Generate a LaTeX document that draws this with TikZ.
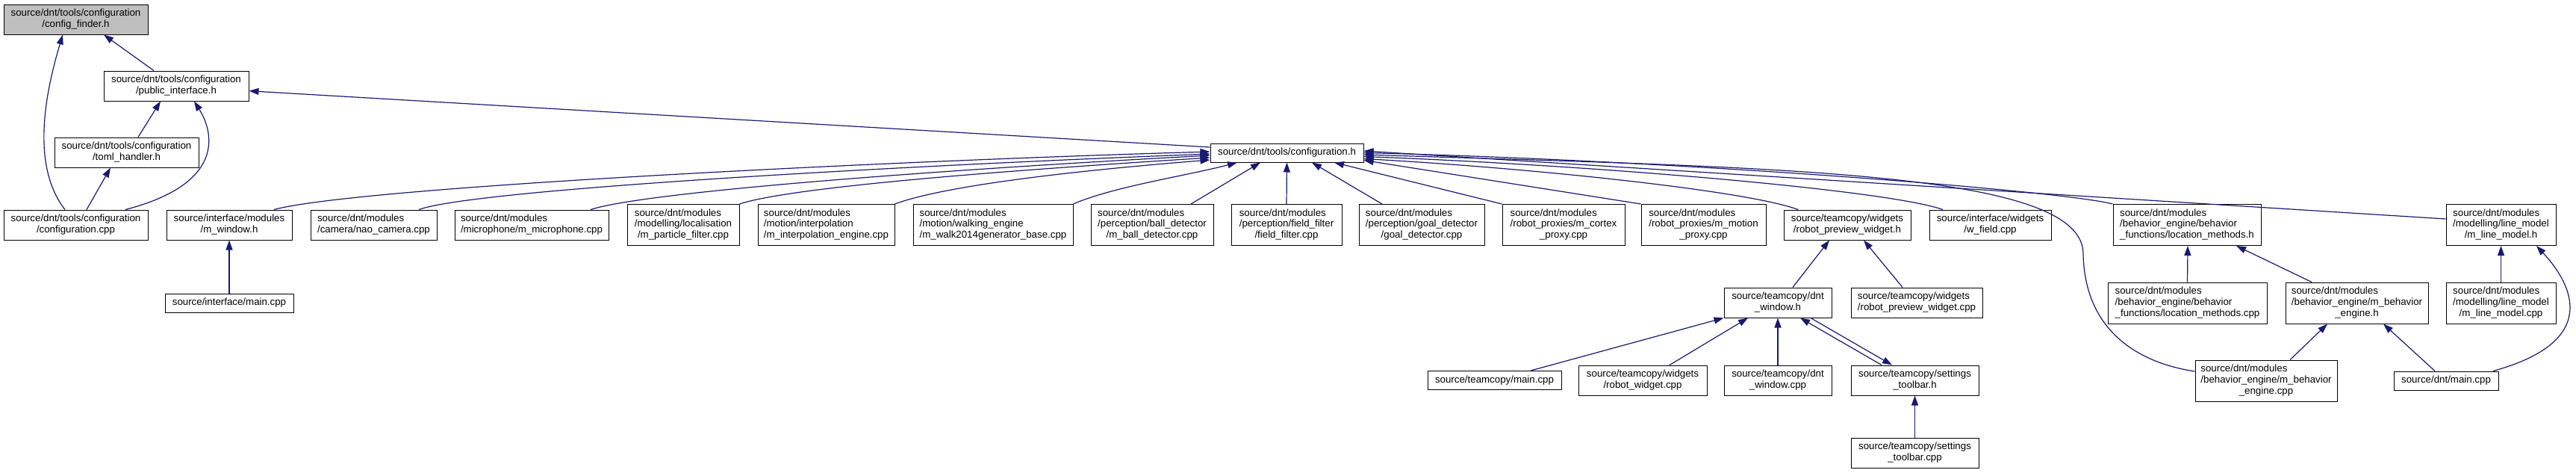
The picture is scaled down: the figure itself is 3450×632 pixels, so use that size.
\documentclass[tikz,border=0pt]{standalone}
\usepackage{fontspec}
\setmainfont{Liberation Sans}
\usetikzlibrary{arrows.meta}
\definecolor{edg}{RGB}{25,25,112}
\definecolor{rootfill}{RGB}{191,191,191}
% all lines but the last left aligned, last one centred
\newcommand{\flines}[2]{\begin{tabular}{@{}l@{}}#1\\\multicolumn{1}{@{}c@{}}{#2}\end{tabular}}
\tikzset{
  >={Triangle[length=13pt,width=9pt]},
  inc/.style={draw=black,line width=1pt,fill=white,inner sep=0pt,
    font=\fontsize{13.3}{14.7}\selectfont},
  incroot/.style={inc,fill=rootfill},
  h1/.style={minimum height=25pt},
  h2/.style={minimum height=40pt},
  h3/.style={minimum height=55pt},
  dep/.style={<-,draw=edg,line width=1.2pt},
}

\begin{document}
\begin{tikzpicture}[x=1pt,y=1pt]
  \useasboundingbox (0,0) rectangle (3450,-632);

  % top of the graph
  \node[incroot,h2,minimum width=193pt] (cfgfinder) at (101.5,-26) {\flines{source/dnt/tools/configuration}{/config\_finder.h}};
  \node[inc,h2,minimum width=194pt] (pubif) at (236,-115) {\flines{source/dnt/tools/configuration}{/public\_interface.h}};
  \node[inc,h2,minimum width=193pt] (toml) at (169.5,-204) {\flines{source/dnt/tools/configuration}{/toml\_handler.h}};
  \node[inc,h1,minimum width=205pt] (confh) at (1723.5,-204.5) {source/dnt/tools/configuration.h};

  % row y=-301
  \node[inc,h2,minimum width=193pt] (confcpp) at (101.5,-301) {\flines{source/dnt/tools/configuration}{/configuration.cpp}};
  \node[inc,h2,minimum width=168pt] (mwindow) at (307,-301) {\flines{source/interface/modules}{/m\_window.h}};
  \node[inc,h2,minimum width=169pt] (naocam) at (500.5,-301) {\flines{source/dnt/modules}{/camera/nao\_camera.cpp}};
  \node[inc,h2,minimum width=206pt] (micro) at (712,-301) {\flines{source/dnt/modules}{/microphone/m\_microphone.cpp}};
  \node[inc,h3,minimum width=150pt] (particle) at (915,-301) {\flines{source/dnt/modules\\/modelling/localisation}{/m\_particle\_filter.cpp}};
  \node[inc,h3,minimum width=183pt] (interp) at (1106.5,-301) {\flines{source/dnt/modules\\/motion/interpolation}{/m\_interpolation\_engine.cpp}};
  \node[inc,h3,minimum width=214pt] (walk) at (1330,-301) {\flines{source/dnt/modules\\/motion/walking\_engine}{/m\_walk2014generator\_base.cpp}};
  \node[inc,h3,minimum width=164pt] (ball) at (1543,-301) {\flines{source/dnt/modules\\/perception/ball\_detector}{/m\_ball\_detector.cpp}};
  \node[inc,h3,minimum width=148pt] (field) at (1723,-301) {\flines{source/dnt/modules\\/perception/field\_filter}{/field\_filter.cpp}};
  \node[inc,h3,minimum width=168pt] (goal) at (1904,-301) {\flines{source/dnt/modules\\/perception/goal\_detector}{/goal\_detector.cpp}};
  \node[inc,h3,minimum width=164pt] (cortex) at (2094,-301) {\flines{source/dnt/modules\\/robot\_proxies/m\_cortex}{\_proxy.cpp}};
  \node[inc,h3,minimum width=167pt] (motion) at (2281.5,-301) {\flines{source/dnt/modules\\/robot\_proxies/m\_motion}{\_proxy.cpp}};
  \node[inc,h2,minimum width=170pt] (rpwh) at (2474,-301) {\flines{source/teamcopy/widgets}{/robot\_preview\_widget.h}};
  \node[inc,h2,minimum width=163pt] (wfield) at (2665.5,-301) {\flines{source/interface/widgets}{/w\_field.cpp}};
  \node[inc,h3,minimum width=198pt] (locmh) at (2929,-301) {\flines{source/dnt/modules\\/behavior\_engine/behavior}{\_functions/location\_methods.h}};
  \node[inc,h3,minimum width=147pt] (lineh) at (3349.5,-301) {\flines{source/dnt/modules\\/modelling/line\_model}{/m\_line\_model.h}};

  % row y=-405
  \node[inc,h1,minimum width=172pt] (imain) at (307,-405.5) {source/interface/main.cpp};
  \node[inc,h2,minimum width=144pt] (dntwinh) at (2381,-405) {\flines{source/teamcopy/dnt}{\_window.h}};
  \node[inc,h2,minimum width=176pt] (rpwcpp) at (2567,-405) {\flines{source/teamcopy/widgets}{/robot\_preview\_widget.cpp}};
  \node[inc,h3,minimum width=213pt] (locmcpp) at (2929.5,-405.5) {\flines{source/dnt/modules\\/behavior\_engine/behavior}{\_functions/location\_methods.cpp}};
  \node[inc,h3,minimum width=191pt] (mbeh) at (3156.5,-405.5) {\flines{source/dnt/modules\\/behavior\_engine/m\_behavior}{\_engine.h}};
  \node[inc,h3,minimum width=147pt] (linecpp) at (3349.5,-405.5) {\flines{source/dnt/modules\\/modelling/line\_model}{/m\_line\_model.cpp}};

  % row y=-509
  \node[inc,h1,minimum width=179pt] (tmain) at (2001.5,-509) {source/teamcopy/main.cpp};
  \node[inc,h2,minimum width=172pt] (rwcpp) at (2200,-509) {\flines{source/teamcopy/widgets}{/robot\_widget.cpp}};
  \node[inc,h2,minimum width=144pt] (dntwincpp) at (2381,-509) {\flines{source/teamcopy/dnt}{\_window.cpp}};
  \node[inc,h2,minimum width=171pt] (stbh) at (2564.5,-509) {\flines{source/teamcopy/settings}{\_toolbar.h}};
  \node[inc,h3,minimum width=190pt] (mbehcpp) at (3035,-509.5) {\flines{source/dnt/modules\\/behavior\_engine/m\_behavior}{\_engine.cpp}};
  \node[inc,h1,minimum width=140pt] (dmain) at (3276,-509.5) {source/dnt/main.cpp};

  \node[inc,h2,minimum width=171pt] (stbcpp) at (2564.5,-606) {\flines{source/teamcopy/settings}{\_toolbar.cpp}};

  % configuration tools
  \draw[dep] ([xshift=-17.5pt]cfgfinder.south) .. controls (62,-120) and (40,-220) .. ([xshift=-14.5pt]confcpp.north);
  \draw[dep] ([xshift=37.5pt]cfgfinder.south) -- ([xshift=-30pt]pubif.north);
  \draw[dep] ([xshift=-21pt]pubif.south) -- ([xshift=15.5pt]toml.north);
  \draw[dep] ([xshift=24pt]pubif.south) .. controls (285,-175) and (305,-245) .. ([xshift=66.5pt]confcpp.north);
  \draw[dep] ([xshift=-21.5pt]toml.south) -- ([xshift=14.5pt]confcpp.north);
  \draw[dep] ([yshift=-6.7pt]pubif.east) -- ([yshift=7.5pt]confh.west);

  % into configuration.h, left side
  \draw[dep] ([yshift=1.5pt]confh.west) .. controls (1200,-215) and (480,-250) .. ([xshift=60pt]mwindow.north);
  \draw[dep] ([yshift=-1.5pt]confh.west) .. controls (1250,-220) and (640,-252) .. ([xshift=60.5pt]naocam.north);
  \draw[dep] ([yshift=-3.5pt]confh.west) .. controls (1300,-225) and (870,-255) .. ([xshift=79pt]micro.north);
  \draw[dep] ([yshift=-6.5pt]confh.west) .. controls (1350,-228) and (1060,-250) .. (particle.north east);
  \draw[dep] ([yshift=-9.5pt]confh.west) .. controls (1420,-230) and (1260,-250) .. (interp.north east);
  \draw[dep] ([xshift=-66.5pt]confh.south) .. controls (1590,-235) and (1490,-250) .. (walk.north east);
  \draw[dep] ([xshift=-35.5pt]confh.south) -- ([xshift=52pt]ball.north);
  \draw[dep] (confh.south) -- (field.north);
  \draw[dep] ([xshift=33.5pt]confh.south) -- ([xshift=-53pt]goal.north);
  \draw[dep] ([xshift=63.5pt]confh.south) -- (cortex.north west);

  % into configuration.h, right side
  \draw[dep] ([yshift=-10pt]confh.east) -- (motion.north west);
  \draw[dep] ([yshift=-8pt]confh.east) .. controls (2050,-225) and (2340,-255) .. ([xshift=-66pt]rpwh.north);
  \draw[dep] ([yshift=-5pt]confh.east) .. controls (2150,-222) and (2530,-255) .. ([xshift=-63.5pt]wfield.north);
  \draw[dep] ([yshift=-2.5pt]confh.east) .. controls (2400,-225) and (2790,-230) .. (2790,-340)
    .. controls (2792,-440) and (2860,-485) .. ([yshift=12.5pt]mbehcpp.west);
  \draw[dep] (confh.east) .. controls (2250,-215) and (2760,-255) .. (locmh.north west);
  \draw[dep] ([yshift=2.5pt]confh.east) -- ([yshift=8pt]lineh.west);

  % lower part
  \draw[dep] (mwindow.south) -- (imain.north);
  \draw[dep] ([xshift=-24pt]rpwh.south) -- ([xshift=20pt]dntwinh.north);
  \draw[dep] ([xshift=22pt]rpwh.south) -- ([xshift=-19pt]rpwcpp.north);
  \draw[dep] (dntwinh.south west) -- ([xshift=48.5pt]tmain.north);
  \draw[dep] ([xshift=-40pt]dntwinh.south) -- ([xshift=36pt]rwcpp.north);
  \draw[dep] (dntwinh.south) -- (dntwincpp.north);
  \draw[dep] ([xshift=30pt]dntwinh.south) -- ([xshift=-44.5pt]stbh.north);
  \draw[dep] ([xshift=-30.5pt]stbh.north) -- ([xshift=44pt]dntwinh.south);
  \draw[dep] (stbh.south) -- (stbcpp.north);
  \draw[dep] ([xshift=1pt]locmh.south) -- (locmcpp.north);
  \draw[dep] ([xshift=66pt]locmh.south) -- ([xshift=-60.5pt]mbeh.north);
  \draw[dep] ([xshift=-39.5pt]mbeh.south) -- ([xshift=32pt]mbehcpp.north);
  \draw[dep] ([xshift=35.5pt]mbeh.south) -- ([xshift=-15pt]dmain.north);
  \draw[dep] (lineh.south) -- (linecpp.north);
  \draw[dep] ([xshift=47.5pt]lineh.south) .. controls (3440,-375) and (3490,-455) .. ([xshift=63pt]dmain.north);
\end{tikzpicture}
\end{document}
